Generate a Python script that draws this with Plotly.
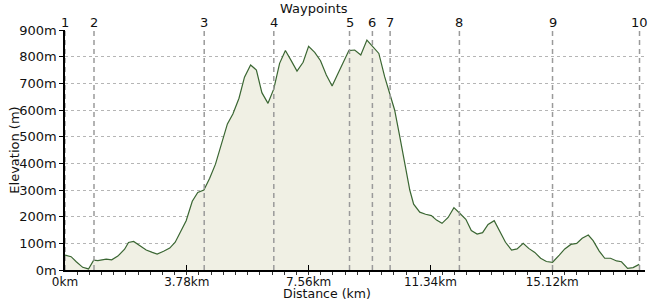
import plotly.graph_objects as go

# Distance along the route (km) and elevation (m)
distance_km = [0.00, 0.19, 0.35, 0.55, 0.73, 0.89, 1.02, 1.28, 1.45, 1.64, 1.85, 1.97, 2.13, 2.31,
               2.52, 2.71, 2.86, 3.06, 3.25, 3.42, 3.58, 3.76, 3.95, 4.12, 4.31, 4.49, 4.67, 4.85,
               5.04, 5.21, 5.40, 5.57, 5.76, 5.94, 6.11, 6.30, 6.48, 6.66, 6.84, 7.02, 7.20, 7.39,
               7.56, 7.75, 7.93, 8.11, 8.29, 8.45, 8.63, 8.81, 8.99, 9.18, 9.37, 9.56, 9.74, 9.92,
               10.08, 10.23, 10.39, 10.54, 10.70, 10.82, 11.01, 11.19, 11.37, 11.53, 11.70, 11.89,
               12.07, 12.25, 12.44, 12.61, 12.79, 12.96, 13.13, 13.32, 13.49, 13.67, 13.86, 14.03,
               14.22, 14.39, 14.58, 14.76, 14.94, 15.13, 15.34, 15.51, 15.70, 15.88, 16.05, 16.24,
               16.39, 16.58, 16.75, 16.93, 17.12, 17.27, 17.46, 17.63, 17.82]
elevation_m = [56, 50, 31, 10, 4, 37, 35, 41, 38, 52, 78, 103, 107, 92,
               75, 66, 60, 70, 82, 104, 140, 185, 258, 291, 300, 344, 397, 469,
               548, 585, 644, 723, 769, 750, 665, 625, 679, 775, 823, 785, 746, 779,
               839, 816, 785, 731, 690, 731, 775, 823, 825, 806, 862, 835, 812, 725,
               660, 600, 500, 400, 300, 247, 217, 209, 204, 187, 175, 197,
               234, 213, 190, 148, 135, 140, 171, 185, 148, 104, 75, 79,
               100, 81, 66, 44, 32, 29, 56, 79, 96, 100, 119, 131,
               110, 71, 44, 44, 34, 31, 6, 9, 21]

# Waypoints
waypoint_labels = ["1", "2", "3", "4", "5", "6", "7", "8", "9", "10"]
waypoint_km = [0.00, 0.90, 4.32, 6.48, 8.83, 9.54, 10.09, 12.24, 15.13, 17.83]

# Axis ticks
x_tickvals = [0, 3.78, 7.56, 11.34, 15.12]
x_ticktext = ["0km", "3.78km", "7.56km", "11.34km", "15.12km"]
y_tickvals = [0, 100, 200, 300, 400, 500, 600, 700, 800, 900]
y_ticktext = ["0m", "100m", "200m", "300m", "400m", "500m", "600m", "700m", "800m", "900m"]

FONT = "DejaVu Sans"

fig = go.Figure()
fig.add_trace(go.Scatter(
    x=distance_km, y=elevation_m, mode="lines",
    line=dict(color="#3a6632", width=1.2),
    fill="tozeroy", fillcolor="#f0f0e4",
    hoverinfo="skip", showlegend=False,
))

for km, lab in zip(waypoint_km, waypoint_labels):
    fig.add_shape(type="line", xref="x", yref="paper", x0=km, x1=km, y0=0, y1=1,
                  line=dict(color="#9a9a9a", width=1.5, dash="5px,4px"), layer="above")
    fig.add_annotation(x=km, xref="x", y=1, yref="paper", text=lab, showarrow=False,
                       yanchor="bottom", yshift=-2, font=dict(family=FONT, size=13, color="#111"))

fig.add_annotation(x=(314 - 65.3) / 579.7, xref="paper", y=(270 - 8) / 240, yref="paper",
                   text="Waypoints", showarrow=False, xanchor="center", yanchor="middle",
                   font=dict(family=FONT, size=13, color="#111"))
fig.add_annotation(x=(327 - 65.3) / 579.7, xref="paper", y=(270 - 293.5) / 240, yref="paper",
                   text="Distance (km)", showarrow=False, xanchor="center", yanchor="middle",
                   borderpad=0, font=dict(family=FONT, size=12.5, color="#111"))
fig.add_annotation(x=(14 - 65.3) / 579.7, xref="paper", y=0.5, yref="paper",
                   text="Elevation (m)", showarrow=False, xanchor="center", yanchor="middle",
                   textangle=-90, font=dict(family=FONT, size=13, color="#111"))

fig.update_layout(
    width=650, height=300,
    margin=dict(l=65, r=5, t=30, b=30),
    paper_bgcolor="white", plot_bgcolor="white",
    font=dict(family=FONT, size=13, color="#111"),
    xaxis=dict(range=[0, 18.0], tickvals=x_tickvals, ticktext=x_ticktext,
               tickfont=dict(family=FONT, size=12, color="#111"),
               showgrid=False, zeroline=False, showline=True, linecolor="black", linewidth=1.5,
               ticks="inside", ticklen=5, tickcolor="black",
               minor=dict(dtick=0.378, tick0=0, ticks="outside", ticklen=3, tickcolor="#333", showgrid=False),
               fixedrange=True),
    yaxis=dict(range=[0, 900], tickvals=y_tickvals, ticktext=y_ticktext,
               showgrid=True, gridcolor="#b5b5b5", griddash="dot", gridwidth=1,
               zeroline=False, showline=True, linecolor="black", linewidth=1.5,
               ticks="outside", ticklen=4, tickcolor="black", fixedrange=True),
)

fig.write_html("out.html")
